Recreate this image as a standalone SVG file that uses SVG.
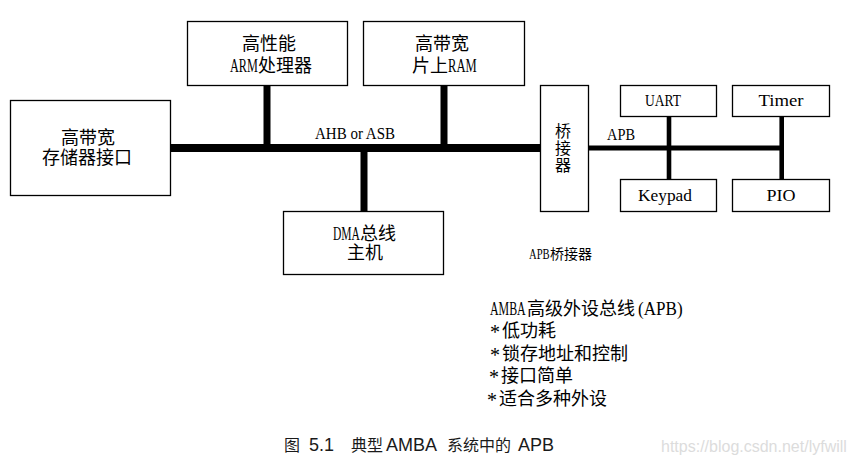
<svg xmlns="http://www.w3.org/2000/svg" width="855" height="467" viewBox="0 0 855 467">
<style>
.box{fill:#fff;stroke:#000;stroke-width:1.3}
.t{font-family:"Liberation Serif","Noto Sans CJK SC",serif;font-size:18px;fill:#000;text-anchor:middle}
.s{font-family:"Liberation Serif","Noto Sans CJK SC",serif;font-size:18px;fill:#000}
.ls{font-family:"Liberation Serif",serif;font-size:18px;fill:#000}
.lat{font-family:"Liberation Serif",serif;font-size:16px;fill:#000;text-anchor:middle}
.bus{stroke:#000;stroke-width:8;fill:none}
.stem{stroke:#000;stroke-width:7;fill:none}
.abus{stroke:#000;stroke-width:5;fill:none}
.astem{stroke:#000;stroke-width:4.6;fill:none}
.cap{font-family:"Liberation Sans","Noto Sans CJK SC",sans-serif;fill:#1a1a1a}
</style>
<rect width="855" height="467" fill="#fff"/>
<g id="connectors">
<line class="bus" x1="170" y1="148" x2="540" y2="148"/>
<line class="stem" x1="267" y1="85" x2="267" y2="148"/>
<line class="stem" x1="444" y1="85" x2="444" y2="148"/>
<line class="stem" x1="364" y1="148" x2="364" y2="211"/>
<line class="abus" x1="588" y1="148" x2="784" y2="148"/>
<line class="astem" x1="669" y1="116" x2="669" y2="179"/>
<line class="astem" x1="781.7" y1="116" x2="781.7" y2="179"/>
<text class="lat" x="355" y="139" textLength="80" lengthAdjust="spacingAndGlyphs">AHB or ASB</text>
<text class="lat" x="621" y="140" textLength="28" lengthAdjust="spacingAndGlyphs">APB</text>
</g>
<g id="mem">
<rect class="box" x="10.5" y="100.5" width="160" height="95"/>
<text class="t" x="88" y="144">高带宽</text>
<text class="t" x="87" y="164">存储器接口</text>
</g>
<g id="arm">
<rect class="box" x="187.5" y="21.5" width="160" height="64"/>
<text class="t" x="269" y="50">高性能</text>
<text class="ls" transform="translate(230,72) scale(0.68,1)">ARM</text>
<text class="s" x="258" y="72">处理器</text>
</g>
<g id="ram">
<rect class="box" x="363.5" y="21.5" width="161" height="64"/>
<text class="t" x="442" y="50">高带宽</text>
<text class="s" x="412" y="72">片上</text>
<text class="ls" transform="translate(448,72) scale(0.7,1)">RAM</text>
</g>
<g id="dma">
<rect class="box" x="283.5" y="211.5" width="160" height="63"/>
<text class="ls" transform="translate(333,240) scale(0.64,1)">DMA</text>
<text class="s" x="360" y="240">总线</text>
<text class="t" x="365" y="259">主机</text>
</g>
<g id="bridge">
<rect class="box" x="540.5" y="85.5" width="48" height="126"/>
<text class="t" x="563" y="137" style="font-size:16px">桥</text>
<text class="t" x="563" y="154" style="font-size:16px">接</text>
<text class="t" x="563" y="171" style="font-size:16px">器</text>
</g>
<g id="uart">
<rect class="box" x="620.5" y="85.5" width="96" height="31"/>
<text class="lat" x="663" y="106" textLength="36" lengthAdjust="spacingAndGlyphs">UART</text>
</g>
<g id="timer">
<rect class="box" x="732.5" y="85.5" width="97" height="31"/>
<text class="lat" x="781" y="106" textLength="45" lengthAdjust="spacingAndGlyphs">Timer</text>
</g>
<g id="keypad">
<rect class="box" x="620.5" y="179.5" width="96" height="32"/>
<text class="lat" x="665" y="201" textLength="54" lengthAdjust="spacingAndGlyphs">Keypad</text>
</g>
<g id="pio">
<rect class="box" x="732.5" y="179.5" width="97" height="32"/>
<text class="lat" x="781" y="201" textLength="29" lengthAdjust="spacingAndGlyphs">PIO</text>
</g>
<g id="bridge-label">
<text class="ls" style="font-size:14px" transform="translate(529,259) scale(0.76,1)">APB</text>
<text class="s" x="550" y="259" style="font-size:14px">桥接器</text>
</g>
<g id="notes">
<text class="ls" transform="translate(490,315) scale(0.66,1)">AMBA</text>
<text class="s" x="527" y="315">高级外设总线</text>
<text class="ls" transform="translate(638,315) scale(0.95,1)">(APB)</text>
<text class="ls" x="490" y="339" style="font-size:20px">*</text>
<text class="s" x="502" y="337">低功耗</text>
<text class="ls" x="490" y="362" style="font-size:20px">*</text>
<text class="s" x="502" y="360">锁存地址和控制</text>
<text class="ls" x="489" y="384" style="font-size:20px">*</text>
<text class="s" x="501" y="382">接口简单</text>
<text class="ls" x="487" y="407" style="font-size:20px">*</text>
<text class="s" x="499" y="405">适合多种外设</text>
</g>
<g id="caption">
<text class="cap" y="451"><tspan x="284" style="font-size:16px">图</tspan><tspan x="309" style="font-size:18px">5.1</tspan><tspan x="351" style="font-size:16px">典型</tspan><tspan x="386" style="font-size:18px">AMBA</tspan><tspan x="447" style="font-size:16px">系统中的</tspan><tspan x="518" style="font-size:18px">APB</tspan></text>
<text x="661" y="452" style="font-family:'Liberation Sans',sans-serif;font-size:16px;fill:#dcdcdc">https://blog.csdn.net/lyfwill</text>
</g>
</svg>
